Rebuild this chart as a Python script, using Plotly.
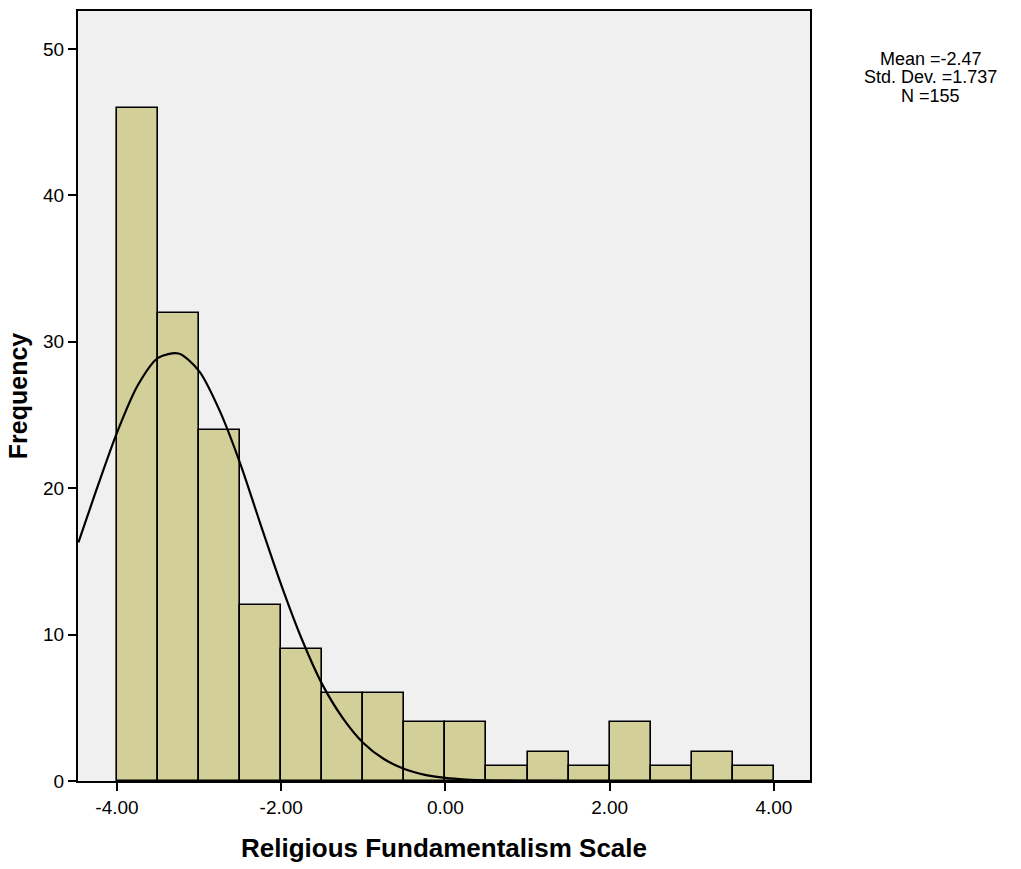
import plotly.graph_objects as go

# Histogram data (bin width 0.5)
bin_starts = [-4.0, -3.5, -3.0, -2.5, -2.0, -1.5, -1.0, -0.5, 0.0, 0.5, 1.0, 1.5, 2.0, 2.5, 3.0, 3.5]
counts = [46, 32, 24, 12, 9, 6, 6, 4, 4, 1, 2, 1, 4, 1, 2, 1]
bin_width = 0.5

# Normal curve
curve_x = [-4.47, -4.25, -4.0, -3.75, -3.5, -3.25, -3.0, -2.75, -2.5, -2.25, -2.0, -1.75, -1.5,
           -1.25, -1.0, -0.75, -0.5, -0.25, 0.0, 0.25, 0.5, 0.75, 1.0, 1.5, 2.0, 3.0, 4.44]
curve_y = [16.3, 19.9, 23.8, 27.0, 28.9, 29.2, 28.0, 25.3, 21.7, 17.5, 13.4, 9.7, 6.6,
           4.3, 2.6, 1.5, 0.82, 0.42, 0.21, 0.10, 0.04, 0.02, 0.01, 0.0, 0.0, 0.0, 0.0]

x_tickvals = [-4, -2, 0, 2, 4]
x_ticktext = ["-4.00", "-2.00", "0.00", "2.00", "4.00"]
y_tickvals = [0, 10, 20, 30, 40, 50]

stats_lines = ["Mean =-2.47", "Std. Dev. =1.737", "N =155"]
stats_y = [0.938, 0.914, 0.890]

centers = [b + bin_width / 2 for b in bin_starts]

fig = go.Figure()
fig.add_trace(go.Bar(
    x=centers, y=counts, width=bin_width,
    marker=dict(color="#d3cf98", line=dict(color="black", width=1.6)),
    showlegend=False, hoverinfo="skip",
))
fig.add_trace(go.Scatter(
    x=curve_x, y=curve_y, mode="lines",
    line=dict(color="black", width=2.2, shape="spline", smoothing=0.8),
    showlegend=False, hoverinfo="skip",
))

font_family = "Liberation Sans, Arial, sans-serif"

fig.update_layout(
    width=1021, height=869,
    margin=dict(l=78, r=211, t=9, b=88),
    paper_bgcolor="white",
    plot_bgcolor="#f0f0f0",
    font=dict(family=font_family, color="black", size=19),
    bargap=0,
    xaxis=dict(
        range=[-4.475, 4.44],
        tickvals=x_tickvals, ticktext=x_ticktext,
        ticks="outside", ticklen=8, tickwidth=2, tickcolor="black",
        showline=True, linecolor="black", linewidth=2, mirror=True,
        showgrid=False, zeroline=False,
        tickfont=dict(size=19),
        title=dict(text="<b>Religious Fundamentalism Scale</b>",
                   font=dict(size=26), standoff=22),
    ),
    yaxis=dict(
        range=[0, 52.6],
        tickvals=y_tickvals,
        ticks="outside", ticklen=8, tickwidth=2, tickcolor="black",
        showline=True, linecolor="black", linewidth=2, mirror=True,
        showgrid=False, zeroline=False,
        tickfont=dict(size=19),
        title=dict(text="<b>Frequency</b>", font=dict(size=25), standoff=8),
    ),
    annotations=[dict(
        text=t, xref="paper", yref="paper",
        x=1.165, y=yy, xanchor="center", yanchor="middle",
        showarrow=False, align="center",
        font=dict(size=18, family=font_family),
    ) for t, yy in zip(stats_lines, stats_y)],
)

fig.write_html("out.html")
